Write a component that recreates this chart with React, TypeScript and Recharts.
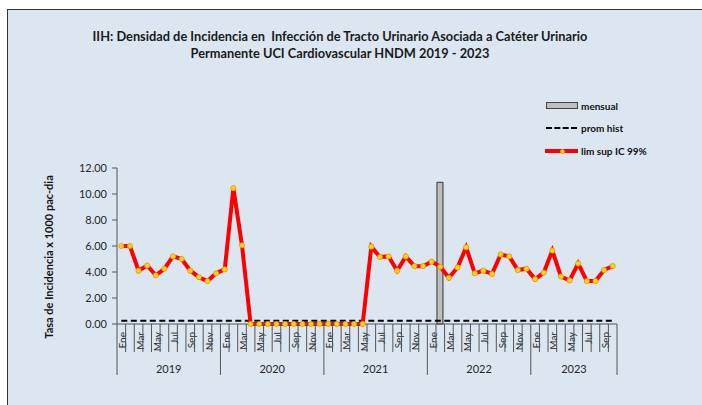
import React from "react";
import { ComposedChart, Bar, Line, XAxis, YAxis } from "recharts";

const monthNames = ["Ene", "Feb", "Mar", "Abr", "May", "Jun", "Jul", "Ago", "Sep", "Oct", "Nov", "Dic"];
const years = [2019, 2020, 2021, 2022, 2023];
const monthsPerYear = [12, 12, 12, 12, 10];

const limSup2019 = [6.0, 6.0, 4.1, 4.5, 3.75, 4.25, 5.2, 5.0, 4.1, 3.6, 3.3, 3.9];
const limSup2020 = [4.2, 10.45, 6.05, 0, 0, 0, 0, 0, 0, 0, 0, 0];
const limSup2021 = [0, 0, 0, 0, 0, 5.95, 5.15, 5.2, 4.1, 5.2, 4.45, 4.45];
const limSup2022 = [4.8, 4.4, 3.55, 4.35, 5.9, 3.9, 4.1, 3.85, 5.35, 5.2, 4.15, 4.25];
const limSup2023 = [3.45, 3.95, 5.65, 3.65, 3.35, 4.65, 3.3, 3.3, 4.15, 4.45];
const limSupByYear = [limSup2019, limSup2020, limSup2021, limSup2022, limSup2023];

const promHistValue = 0.25;
// mensual: only Feb 2022 has a visible bar
const mensualPoints: Record<string, number> = { "2022-Feb": 10.9 };

const yTicks = [0, 2, 4, 6, 8, 10, 12];

type Row = {
  key: string;
  month: string;
  monthIdx: number;
  year: number;
  yearCount: number;
  mensual: number | null;
  promHist: number;
  limSup: number;
};

const data: Row[] = [];
years.forEach((yr, yi) => {
  for (let m = 0; m < monthsPerYear[yi]; m++) {
    const key = `${yr}-${monthNames[m]}`;
    data.push({
      key,
      month: monthNames[m],
      monthIdx: m,
      year: yr,
      yearCount: monthsPerYear[yi],
      mensual: mensualPoints[key] ?? null,
      promHist: promHistValue,
      limSup: limSupByYear[yi][m],
    });
  }
});

const W = 702;
const H = 405;
const MARGIN = { top: 168, right: 85, bottom: 21, left: 57 };
const YAXIS_W = 60;
const XAXIS_H = 60;
const PLOT_W = W - MARGIN.left - MARGIN.right - YAXIS_W;
const BAND = PLOT_W / data.length;
const FONT = "Lato, 'Open Sans', sans-serif";
const TXT = "#262626";

const keyIndex: Record<string, number> = {};
data.forEach((d, i) => (keyIndex[d.key] = i));

const MonthTick = (props: any) => {
  const { x, y, payload } = props;
  const i = keyIndex[payload.value];
  const row = data[i];
  if (!row) return null;
  const left = x - BAND / 2;
  const right = x + BAND / 2;
  const isYearStart = row.monthIdx === 0;
  const isLast = i === data.length - 1;
  return (
    <g>
      <line x1={left} x2={left} y1={y} y2={y + (isYearStart ? 51 : 28)} stroke="#555" strokeWidth={1} />
      {isLast && <line x1={right} x2={right} y1={y} y2={y + 51} stroke="#555" strokeWidth={1} />}
      {row.monthIdx % 2 === 0 && (
        <text
          x={x + 1}
          y={y + 8}
          transform={`rotate(-90 ${x + 1} ${y + 8})`}
          textAnchor="end"
          dominantBaseline="central"
          fontSize={10}
          fontFamily={FONT}
          fill={TXT}
        >
          {row.month}
        </text>
      )}
      {isYearStart && (
        <text
          x={left + (row.yearCount * BAND) / 2}
          y={y + 44}
          textAnchor="middle"
          dominantBaseline="central"
          fontSize={11}
          fontFamily={FONT}
          fill={TXT}
        >
          {row.year}
        </text>
      )}
    </g>
  );
};

const LimDot = (props: any) => {
  const { cx, cy } = props;
  if (cx == null || cy == null) return null;
  return <circle cx={cx} cy={cy} r={2.6} fill="#ffd21f" stroke="#e39500" strokeWidth={0.8} />;
};

const YTitle = (props: any) => {
  const vb = props.viewBox || {};
  const cx = vb.x - 9;
  const cy = vb.y + vb.height / 2 + 11;
  return (
    <text
      x={cx}
      y={cy}
      transform={`rotate(-90 ${cx} ${cy})`}
      textAnchor="middle"
      dominantBaseline="central"
      fontSize={11}
      fontWeight="bold"
      fontFamily={FONT}
      fill="#111"
    >
      Tasa de Incidencia x 1000 pac-dia
    </text>
  );
};

const legendText: React.CSSProperties = {
  position: "absolute",
  left: 581,
  fontFamily: FONT,
  fontSize: 10,
  fontWeight: "bold",
  color: "#111",
  lineHeight: "12px",
};

export default function App() {
  return (
    <div style={{ position: "absolute", left: 0, top: 0, width: W, height: H, background: "#fff", overflow: "hidden" }}>
      <div
        style={{
          position: "absolute",
          left: 7,
          top: 9,
          width: 720,
          height: 420,
          background: "#dce6f1",
          borderLeft: "1.5px solid #333",
          borderTop: "1.5px solid #333",
        }}
      />
      <div
        style={{
          position: "absolute",
          left: 0,
          width: 680,
          top: 28,
          textAlign: "center",
          fontFamily: FONT,
          fontWeight: "bold",
          fontSize: 12.8,
          lineHeight: "17px",
          color: "#1a1a1a",
          whiteSpace: "pre",
        }}
      >
        {"IIH: Densidad de Incidencia en  Infección de Tracto Urinario Asociada a Catéter Urinario\nPermanente UCI Cardiovascular HNDM 2019 - 2023"}
      </div>
      <div style={{ position: "absolute", left: 0, top: 0 }}>
        <ComposedChart width={W} height={H} data={data} margin={MARGIN} barCategoryGap={0}>
          <XAxis
            dataKey="key"
            interval={0}
            height={XAXIS_H}
            tick={<MonthTick />}
            tickLine={false}
            tickSize={0}
            tickMargin={0}
            axisLine={{ stroke: "#555", strokeWidth: 1 }}
          />
          <YAxis
            width={YAXIS_W}
            domain={[0, 12]}
            ticks={yTicks}
            tickFormatter={(v: number) => v.toFixed(2)}
            tick={{ fontSize: 11, fontFamily: FONT, fill: TXT }}
            tickSize={5}
            tickMargin={5}
            tickLine={{ stroke: "#555" }}
            axisLine={{ stroke: "#555", strokeWidth: 1 }}
            interval={0}
            label={<YTitle />}
          />
          <Bar dataKey="mensual" barSize={6} fill="#bfbfbf" stroke="#333" strokeWidth={1} isAnimationActive={false} />
          <Line
            dataKey="promHist"
            stroke="#000"
            strokeWidth={2.2}
            strokeDasharray="6 3.5"
            dot={false}
            activeDot={false}
            isAnimationActive={false}
          />
          <Line
            dataKey="limSup"
            stroke="#ff0000"
            strokeWidth={4}
            dot={<LimDot />}
            activeDot={false}
            isAnimationActive={false}
          />
        </ComposedChart>
      </div>
      {/* legend */}
      <div style={{ position: "absolute", left: 546, top: 102, width: 30, height: 5, background: "#bfbfbf", border: "1px solid #444" }} />
      <div style={{ ...legendText, top: 100 }}>mensual</div>
      <div style={{ position: "absolute", left: 546, top: 127, width: 31, height: 0, borderTop: "2.2px dashed #000" }} />
      <div style={{ ...legendText, top: 122 }}>prom hist</div>
      <div style={{ position: "absolute", left: 545, top: 149, width: 33, height: 4, background: "#ff0000" }} />
      <div
        style={{
          position: "absolute",
          left: 559.5,
          top: 148.5,
          width: 5,
          height: 5,
          borderRadius: "50%",
          background: "#ffd21f",
          boxSizing: "border-box",
          border: "0.8px solid #e39500",
        }}
      />
      <div style={{ ...legendText, top: 145 }}>lim sup IC 99%</div>
    </div>
  );
}
